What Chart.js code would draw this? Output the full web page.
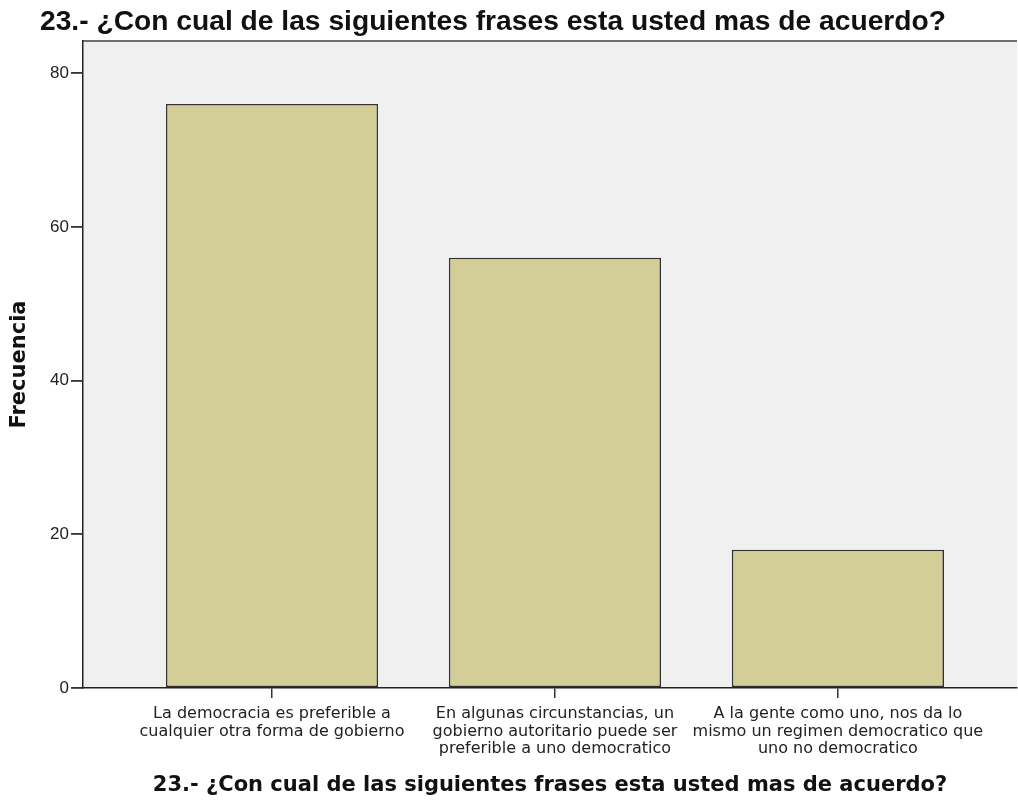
<!DOCTYPE html>
<html>
<head>
<meta charset="utf-8">
<script src="https://cdn.jsdelivr.net/npm/chart.js@4/dist/chart.umd.min.js"></script>
<style>
  html, body { margin: 0; padding: 0; background: #fff; }
  canvas { display: block; }
</style>
</head>
<body>
<canvas id="chart" width="1018" height="802"></canvas>
<script>
const chartTitle = "23.- ¿Con cual de las siguientes frases esta usted mas de acuerdo?"
const categories = [
  ["La democracia es preferible a", "cualquier otra forma de gobierno"],
  ["En algunas circunstancias, un", "gobierno autoritario puede ser", "preferible a uno democratico"],
  ["A la gente como uno, nos da lo", "mismo un regimen democratico que", "uno no democratico"]
]
const frequencies = [76, 56, 18]
const yTicks = [0, 20, 40, 60, 80]
const yMax = 84.2

// spss-style grey plot panel + top frame line
const panel = {
  id: "panel",
  beforeDraw(chart) {
    const { ctx, chartArea: a } = chart
    ctx.save()
    ctx.fillStyle = "#ffffff"
    ctx.fillRect(0, 0, chart.width, chart.height)
    ctx.fillStyle = "#f0f0f0"
    ctx.fillRect(a.left, a.top, a.right - a.left, a.bottom - a.top)
    ctx.strokeStyle = "#6e6e6e"
    ctx.lineWidth = 2
    ctx.beginPath()
    ctx.moveTo(a.left, a.top)
    ctx.lineTo(a.right, a.top)
    ctx.stroke()
    ctx.restore()
  },
  afterDraw(chart) {
    const { ctx } = chart
    ctx.save()
    ctx.fillStyle = "#111"
    ctx.font = 'bold 28.5px "Liberation Sans", Arial, sans-serif'
    ctx.textBaseline = "alphabetic"
    ctx.textAlign = "left"
    ctx.fillText(chartTitle, 40, 29.5, 906)
    ctx.restore()
  }
}

const ctx = document.getElementById("chart").getContext("2d")

new Chart(ctx, {
  type: "bar",
  data: {
    datasets: [{
      data: frequencies.map((v, i) => ({ x: i + 1, y: v })),
      backgroundColor: "#d3ce97",
      borderColor: "#333333",
      borderWidth: 1.6,
      borderSkipped: false,
      barPercentage: 0.75,
      categoryPercentage: 1
    }]
  },
  options: {
    responsive: false,
    animation: false,
    devicePixelRatio: 1,
    layout: { padding: { top: 41, right: 1, left: 0, bottom: 0 } },
    plugins: {
      legend: { display: false },
      title: { display: false },
      tooltip: { enabled: false }
    },
    scales: {
      x: {
        type: "linear",
        min: 0.332,
        max: 3.633,
        offset: false,
        afterBuildTicks: (scale) => { scale.ticks = categories.map((c, i) => ({ value: i + 1 })) },
        afterFit: (scale) => { scale.height = 114 },
        ticks: {
          autoSkip: false,
          maxRotation: 0,
          padding: 7,
          color: "#222",
          font: { family: '"DejaVu Sans", sans-serif', size: 16, lineHeight: 1.1 },
          callback: (value) => categories[value - 1]
        },
        grid: { offset: false, drawOnChartArea: false, tickLength: 10, color: "#333", lineWidth: 1.5 },
        border: { display: true, color: "#222", width: 1.5 },
        title: {
          display: true,
          text: chartTitle,
          color: "#111",
          padding: { top: 0, bottom: 3.4 },
          font: { family: '"DejaVu Sans", sans-serif', size: 21, weight: "bold", lineHeight: 1.2 }
        }
      },
      y: {
        min: 0,
        max: yMax,
        afterBuildTicks: (scale) => { scale.ticks = yTicks.map(v => ({ value: v })) },
        afterFit: (scale) => { scale.width = 83 },
        ticks: {
          padding: 2,
          color: "#222",
          font: { family: '"Liberation Sans", Arial, sans-serif', size: 17 }
        },
        grid: { drawOnChartArea: false, tickLength: 12, color: "#333", lineWidth: 1.8 },
        border: { display: true, color: "#222", width: 1.5 },
        title: {
          display: true,
          text: "Frecuencia",
          color: "#111",
          padding: { top: 7.4, bottom: 0 },
          font: { family: '"DejaVu Sans", sans-serif', size: 21, weight: "bold", lineHeight: 1.2 }
        }
      }
    }
  },
  plugins: [panel]
})
</script>
</body>
</html>
